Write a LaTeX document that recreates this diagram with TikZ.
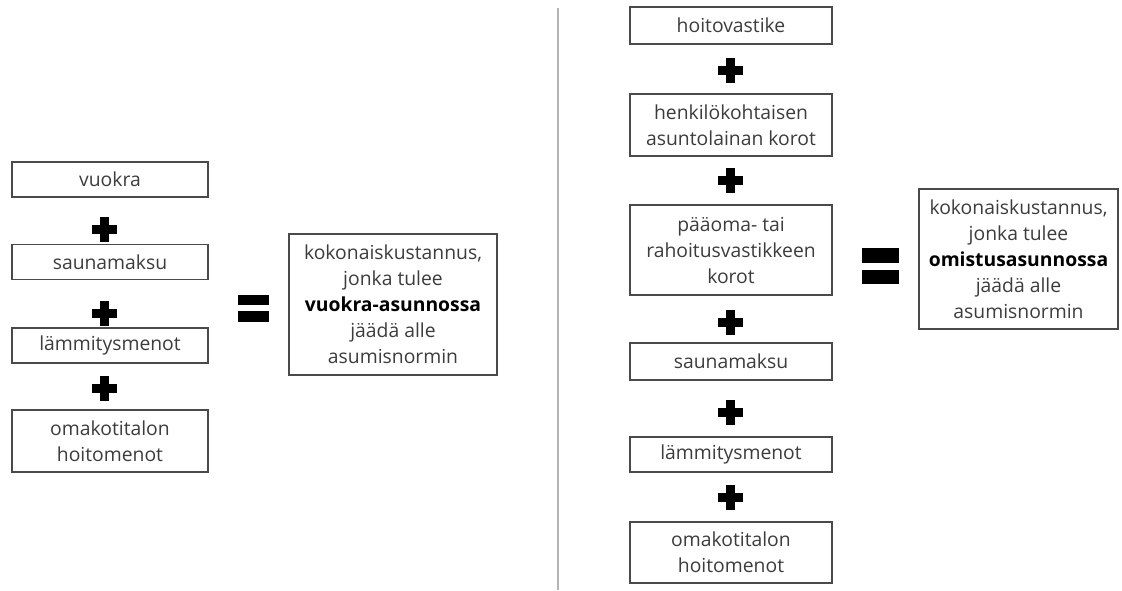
\documentclass[tikz,border=0pt]{standalone}
\usepackage{fontspec}
\setmainfont{Open Sans}
\definecolor{txtgray}{HTML}{3C3C3C}
\definecolor{boxgray}{HTML}{4A4A4A}
\definecolor{rulegray}{HTML}{B4B4B4}
\tikzset{
	costbox/.style={draw=boxgray, line width=1.1pt, text=txtgray, align=center, inner sep=2pt,
		font=\fontsize{14.5}{19.5}\selectfont},
	plussign/.pic={
		\fill (-12.5,-4.5) rectangle (12.5,4.5);
		\fill (-4.5,-12.5) rectangle (4.5,12.5);
	},
}

\begin{document}
\begin{tikzpicture}[x=0.75pt,y=-0.75pt]
			%%%%% START %%%%%
			\useasboundingbox (0,0) rectangle (1122,590);
			
			% vuokra-asunto
			\node[costbox, minimum width=147pt, minimum height=26.25pt] (vuokra) at (110,179.5) {vuokra};
			\pic at (104,229) {plussign};
			\node[costbox, minimum width=147pt, minimum height=26.25pt] (sauna1) at (110,262) {saunamaksu};
			\pic at (104,313) {plussign};
			\node[costbox, minimum width=147pt, minimum height=26.25pt] (lammitys1) at (110,345.5) {lämmitysmenot};
			\pic at (104,388) {plussign};
			\node[costbox, minimum width=147pt, minimum height=46.5pt] (omakoti1) at (110,441) {omakotitalon\\hoitomenot};
			
			\fill (238,295) rectangle (269,305);
			\fill (238,311) rectangle (269,322);
			
			\node[costbox, minimum width=156pt, minimum height=105.75pt] (summa1) at (393,304.5)
				{kokonaiskustannus,\\jonka tulee\\\textbf{\color{black}vuokra-asunnossa}\\jäädä alle\\asumisnormin};
			
			% erotinviiva
			\draw[rulegray, line width=1.5pt] (558,8) -- (558,590);
			
			% omistusasunto
			\node[costbox, minimum width=151.5pt, minimum height=27.75pt] (hoito) at (731,25.5) {hoitovastike};
			\pic at (730,70) {plussign};
			\node[costbox, minimum width=151.5pt, minimum height=46.5pt] (laina) at (731,125) {henkilökohtaisen\\asuntolainan korot};
			\pic at (730,180) {plussign};
			\node[costbox, minimum width=151.5pt, minimum height=67.5pt] (paaoma) at (731,250) {pääoma- tai\\rahoitusvastikkeen\\korot};
			\pic at (730,322) {plussign};
			\node[costbox, minimum width=151.5pt, minimum height=27.75pt] (sauna2) at (731,361.5) {saunamaksu};
			\pic at (730,412) {plussign};
			\node[costbox, minimum width=151.5pt, minimum height=26.25pt] (lammitys2) at (731,454.5) {lämmitysmenot};
			\pic at (730,497) {plussign};
			\node[costbox, minimum width=151.5pt, minimum height=45.75pt] (omakoti2) at (731,552.5) {omakotitalon\\hoitomenot};
			
			\fill (862,248) rectangle (899,263);
			\fill (862,270) rectangle (899,284);
			
			\node[costbox, minimum width=149.25pt, minimum height=105pt] (summa2) at (1018.5,259)
				{kokonaiskustannus,\\jonka tulee\\\textbf{\color{black}omistusasunnossa}\\jäädä alle\\asumisnormin};
			%%%%% END %%%%%
\end{tikzpicture}
\end{document}
